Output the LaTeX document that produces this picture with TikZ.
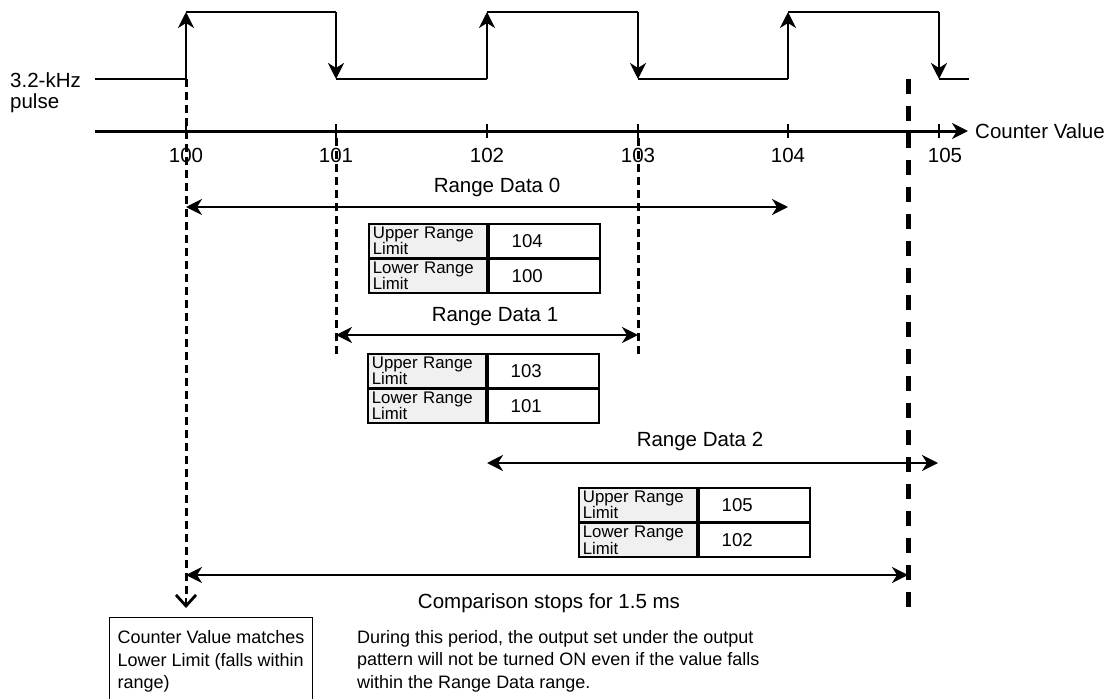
\documentclass[tikz,border=0pt]{standalone}
\usepackage{fontspec}
\setmainfont{Liberation Sans}
\usetikzlibrary{arrows.meta}
\newcommand\mainfs{\fontsize{20.5}{24}\selectfont}
\newcommand\notefs{\fontsize{18}{22.5}\selectfont}
\newcommand\valfs{\fontsize{18.6}{22}\selectfont}
\newcommand\labfs{\fontsize{16.8}{14.8}\selectfont}
\tikzset{
  sigline/.style={line width=2.5pt},
  edgearrow/.style={line width=2.5pt,-{Stealth[length=16pt,width=16pt,inset=5pt]}},
  axisline/.style={line width=3pt,-{Stealth[length=16pt,width=16pt,inset=5pt]}},
  tickmark/.style={line width=1.6pt},
  thindash/.style={line width=3pt,dash pattern=on 8pt off 5pt},
  thickdash/.style={line width=5pt,dash pattern=on 15pt off 12pt},
  rangearrow/.style={line width=2.5pt,{Stealth[length=16pt,width=16pt,inset=5pt]}-{Stealth[length=16pt,width=16pt,inset=5pt]}},
  barbtip/.style={line width=2.8pt,-{Straight Barb[length=11pt,width=20pt,line width=2.8pt]}},
  txt/.style={font=\mainfs,inner sep=0pt},
  labcell/.style={draw,line width=1.8pt,fill=black!6,minimum height=33.5pt,text width=110pt,inner xsep=4pt,inner ysep=0pt,align=left,font=\labfs},
  valcell/.style={draw,line width=1.8pt,minimum height=33.5pt,text width=65pt,inner xsep=23pt,inner ysep=0pt,align=left,font=\valfs},
}
\newcommand\rtable[5]{%
  \node[labcell,anchor=north west] (#1ul) at (#2,#3) {Upper Range\\Limit};
  \node[valcell,anchor=north west] (#1uv) at (#1ul.north east) {#4};
  \node[labcell,anchor=north west] (#1ll) at (#1ul.south west) {Lower Range\\Limit};
  \node[valcell,anchor=north west] (#1lv) at (#1ll.north east) {#5};}
\begin{document}
\begin{tikzpicture}[x=1pt,y=-1pt]
\useasboundingbox (0,0) rectangle (1117,699);
% pulse coordinates
\coordinate (s0) at (95,79);
\foreach \n/\x in {100/186,101/336,102/487,103/638,104/788,105/939}{
  \coordinate (lo\n) at (\x,79);
  \coordinate (hi\n) at (\x,12);
}
\coordinate (s1) at (969,79);
\draw[sigline] (s0) -- (lo100);
\draw[sigline] (hi100) -- (hi101);
\draw[sigline] (lo101) -- (lo102);
\draw[sigline] (hi102) -- (hi103);
\draw[sigline] (lo103) -- (lo104);
\draw[sigline] (hi104) -- (hi105);
\draw[sigline] (lo105) -- (s1);
\draw[edgearrow] (lo100) -- (hi100);
\draw[edgearrow] (hi101) -- (lo101);
\draw[edgearrow] (lo102) -- (hi102);
\draw[edgearrow] (hi103) -- (lo103);
\draw[edgearrow] (lo104) -- (hi104);
\draw[edgearrow] (hi105) -- (lo105);
\node[txt,anchor=west] (pl1) at (10,80) {3.2-kHz};
\node[txt,anchor=west] (pl2) at (10,103) {pulse};
% axis
\coordinate (a0) at (95,131);
\coordinate (a1) at (968,131);
\draw[axisline] (a0) -- (a1);
\node[txt,anchor=west] (cv) at (975,131) {Counter Value};
\foreach \n/\x/\lx in {100/186/186,101/336/336,102/487/487,103/638/638,104/788/788,105/939/945}{
  \draw[tickmark] (\x,124) -- (\x,138);
  \node[txt] (lab\n) at (\lx,155) {\n};
}
% dashed guides
\coordinate (d100m) at (186,598);
\coordinate (d100b) at (186,608);
\draw[thindash] (lo100) -- (d100m);
\draw[barbtip] (d100m) -- (d100b);
\coordinate (d101t) at (336,138);
\coordinate (d101b) at (336,355);
\draw[thindash] (d101t) -- (d101b);
\coordinate (d103t) at (638,138);
\coordinate (d103b) at (638,355);
\draw[thindash] (d103t) -- (d103b);
\coordinate (stopt) at (908,79);
\coordinate (stopb) at (908,618);
\draw[thickdash] (stopt) -- (stopb);
% range data 0
\coordinate (r0a) at (186,207); \coordinate (r0b) at (788,207);
\draw[rangearrow] (r0a) -- (r0b);
\node[txt] (r0t) at (497,187) {Range Data 0};
\rtable{ta}{368}{223}{104}{100}
% range data 1
\coordinate (r1a) at (336,335); \coordinate (r1b) at (638,335);
\draw[rangearrow] (r1a) -- (r1b);
\node[txt] (r1t) at (495,317) {Range Data 1};
\rtable{tb}{367}{353}{103}{101}
% range data 2
\coordinate (r2a) at (487,463); \coordinate (r2b) at (938,463);
\draw[rangearrow] (r2a) -- (r2b);
\node[txt] (r2t) at (700,441) {Range Data 2};
\rtable{tc}{578}{487}{105}{102}
% comparison
\coordinate (ca) at (186,575); \coordinate (cb) at (908,575);
\draw[rangearrow] (ca) -- (cb);
\node[txt] (ct) at (549,603) {Comparison stops for 1.5 ms};
% notes
\node[draw,line width=1.2pt,anchor=north west,minimum width=198pt,minimum height=100pt,inner xsep=8pt,inner ysep=0pt,align=left,font=\notefs] (box) at (109,617) {\rule{0pt}{26pt}Counter Value matches\\Lower Limit (falls within\\range)\\[26pt]};
\node[anchor=north west,inner sep=0pt,align=left,font=\notefs] (para) at (357,630) {During this period, the output set under the output\\pattern will not be turned ON even if the value falls\\within the Range Data range.};
\end{tikzpicture}
\end{document}
